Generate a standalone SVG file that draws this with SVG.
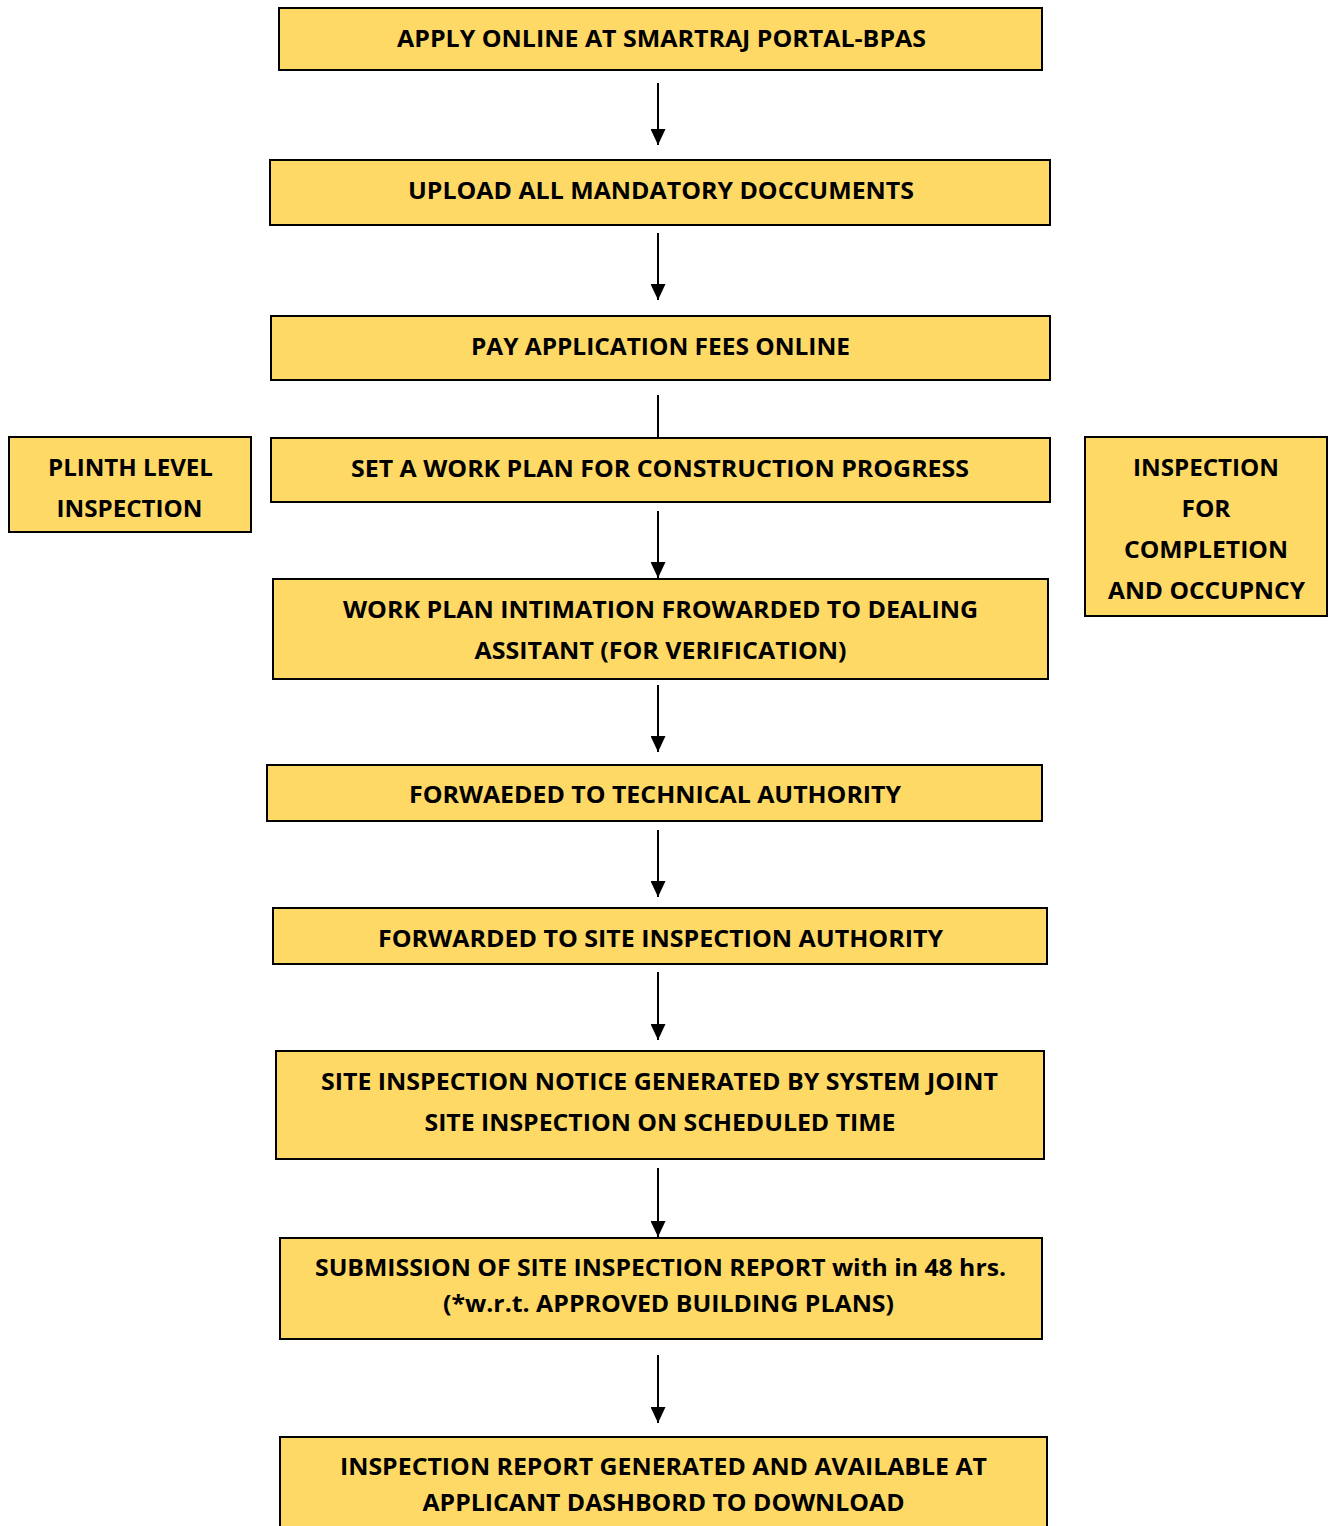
<svg xmlns="http://www.w3.org/2000/svg" width="1332" height="1526" viewBox="0 0 1332 1526">
<defs>
<style>
.box{fill:#FFD966;stroke:#000;stroke-width:2}
.t{font-family:"Open Sans","Liberation Sans",sans-serif;font-weight:bold;font-size:24px;fill:#000;text-anchor:middle}
.c{stroke:#000;stroke-width:2;fill:none}
</style>
<marker id="ah2" viewBox="0 0 16 15" refX="16" refY="7.5" markerWidth="16" markerHeight="15" markerUnits="userSpaceOnUse" orient="auto">
<path d="M0,0 L16,7.5 L0,15 z" fill="#000"/>
</marker>
</defs>
<rect width="1332" height="1526" fill="#fff"/>
<g id="connectors">
<line class="c" x1="658" y1="83" x2="658" y2="145" marker-end="url(#ah2)"/>
<line class="c" x1="658" y1="233" x2="658" y2="300" marker-end="url(#ah2)"/>
<line class="c" x1="658" y1="395" x2="658" y2="437"/>
<line class="c" x1="658" y1="511" x2="658" y2="578" marker-end="url(#ah2)"/>
<line class="c" x1="658" y1="685" x2="658" y2="752" marker-end="url(#ah2)"/>
<line class="c" x1="658" y1="830" x2="658" y2="897" marker-end="url(#ah2)"/>
<line class="c" x1="658" y1="972" x2="658" y2="1040" marker-end="url(#ah2)"/>
<line class="c" x1="658" y1="1168" x2="658" y2="1237" marker-end="url(#ah2)"/>
<line class="c" x1="658" y1="1355" x2="658" y2="1423" marker-end="url(#ah2)"/>
</g>
<g id="n1"><rect class="box" x="279" y="8" width="763" height="62"/>
<text class="t" x="661.5" y="47" textLength="529" lengthAdjust="spacingAndGlyphs">APPLY ONLINE AT SMARTRAJ PORTAL-BPAS</text></g>
<g id="n2"><rect class="box" x="270" y="160" width="780" height="65"/>
<text class="t" x="661" y="199" textLength="506" lengthAdjust="spacingAndGlyphs">UPLOAD ALL MANDATORY DOCCUMENTS</text></g>
<g id="n3"><rect class="box" x="271" y="316" width="779" height="64"/>
<text class="t" x="660.5" y="355" textLength="379" lengthAdjust="spacingAndGlyphs">PAY APPLICATION FEES ONLINE</text></g>
<g id="n4"><rect class="box" x="271" y="438" width="779" height="64"/>
<text class="t" x="660" y="477" textLength="618" lengthAdjust="spacingAndGlyphs">SET A WORK PLAN FOR CONSTRUCTION PROGRESS</text></g>
<g id="n5"><rect class="box" x="273" y="579" width="775" height="100"/>
<text class="t" x="660.5" y="618" textLength="635" lengthAdjust="spacingAndGlyphs">WORK PLAN INTIMATION FROWARDED TO DEALING</text>
<text class="t" x="660.5" y="659" textLength="372" lengthAdjust="spacingAndGlyphs">ASSITANT (FOR VERIFICATION)</text></g>
<g id="n6"><rect class="box" x="267" y="765" width="775" height="56"/>
<text class="t" x="655" y="803" textLength="492" lengthAdjust="spacingAndGlyphs">FORWAEDED TO TECHNICAL AUTHORITY</text></g>
<g id="n7"><rect class="box" x="273" y="908" width="774" height="56"/>
<text class="t" x="660.5" y="947" textLength="565" lengthAdjust="spacingAndGlyphs">FORWARDED TO SITE INSPECTION AUTHORITY</text></g>
<g id="n8"><rect class="box" x="276" y="1051" width="768" height="108"/>
<text class="t" x="659.5" y="1090" textLength="677" lengthAdjust="spacingAndGlyphs">SITE INSPECTION NOTICE GENERATED BY SYSTEM JOINT</text>
<text class="t" x="660" y="1131" textLength="471" lengthAdjust="spacingAndGlyphs">SITE INSPECTION ON SCHEDULED TIME</text></g>
<g id="n9"><rect class="box" x="280" y="1238" width="762" height="101"/>
<text class="t" x="660.5" y="1276" textLength="691" lengthAdjust="spacingAndGlyphs">SUBMISSION OF SITE INSPECTION REPORT with in 48 hrs.</text>
<text class="t" x="668.5" y="1312" textLength="451" lengthAdjust="spacingAndGlyphs">(*w.r.t. APPROVED BUILDING PLANS)</text></g>
<g id="n10"><rect class="box" x="280" y="1437" width="767" height="100"/>
<text class="t" x="663.5" y="1475" textLength="647" lengthAdjust="spacingAndGlyphs">INSPECTION REPORT GENERATED AND AVAILABLE AT</text>
<text class="t" x="663.5" y="1511" textLength="482" lengthAdjust="spacingAndGlyphs">APPLICANT DASHBORD TO DOWNLOAD</text></g>
<g id="plinth"><rect class="box" x="9" y="437" width="242" height="95"/>
<text class="t" x="130.5" y="476" textLength="165" lengthAdjust="spacingAndGlyphs">PLINTH LEVEL</text>
<text class="t" x="129.5" y="517" textLength="146" lengthAdjust="spacingAndGlyphs">INSPECTION</text></g>
<g id="completion"><rect class="box" x="1085" y="437" width="242" height="179"/>
<text class="t" x="1206" y="476" textLength="146" lengthAdjust="spacingAndGlyphs">INSPECTION</text>
<text class="t" x="1206" y="517" textLength="49" lengthAdjust="spacingAndGlyphs">FOR</text>
<text class="t" x="1206" y="558" textLength="164" lengthAdjust="spacingAndGlyphs">COMPLETION</text>
<text class="t" x="1206.5" y="599" textLength="197" lengthAdjust="spacingAndGlyphs">AND OCCUPNCY</text></g>
</svg>
